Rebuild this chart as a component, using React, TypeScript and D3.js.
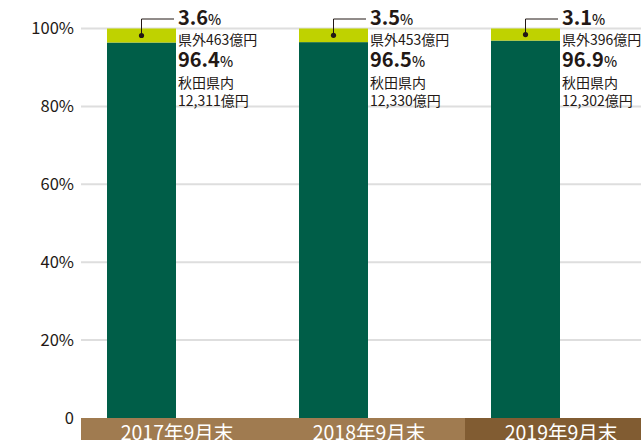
import React from "react";
import * as d3 from "d3";

const categories = ["2017年9月末", "2018年9月末", "2019年9月末"];
const insidePct = [96.4, 96.5, 96.9];
const outsidePct = [3.6, 3.5, 3.1];
const insideAmount = ["12,311", "12,330", "12,302"];
const outsideAmount = ["463", "453", "396"];
const yTicks = [0, 20, 40, 60, 80, 100];

const W = 641;
const H = 440;
const FONT = "'Noto Sans CJK JP', 'Noto Sans', sans-serif";
const TXT = "#231815";
const GREEN = "#005e48";
const LIME = "#bfd200";

export default function App() {
  const x = d3.scaleBand<string>().domain(categories).range([81, 657]).padding(0);
  const y = d3.scaleLinear().domain([0, 100]).range([418, 28.5]);
  const barOffset = 26;
  const barW = 69;

  return (
    <svg width={W} height={H} style={{ position: "absolute", left: 0, top: 0, display: "block" }}>
      <rect x={0} y={0} width={W} height={H} fill="#fff" />
      {yTicks.filter((t) => t > 0).map((t) => (
        <line key={"g" + t} x1={81} x2={W} y1={y(t)} y2={y(t)} stroke="#dedede" strokeWidth={2} />
      ))}
      {yTicks.map((t) => (
        <text key={"t" + t} x={74} y={y(t)} dy="0.36em" textAnchor="end" fontFamily={FONT} fontSize={16.5} fill={TXT}>
          {t === 0 ? "0" : `${t}%`}
        </text>
      ))}
      {categories.map((c, i) => {
        const bx = (x(c) as number) + barOffset;
        const cx = bx + barW / 2;
        const yIn = y(insidePct[i]);
        const yTop = y(100);
        const dotY = (yIn + yTop) / 2;
        const tx = bx + barW + 2;
        return (
          <g key={c}>
            <rect x={bx} y={yIn} width={barW} height={y(0) - yIn} fill={GREEN} />
            <rect x={bx} y={yTop} width={barW} height={yIn - yTop} fill={LIME} />
            <polyline points={`${cx},${dotY} ${cx},19 ${tx - 4},19`} fill="none" stroke={TXT} strokeWidth={1} />
            <circle cx={cx} cy={dotY} r={2.6} fill={TXT} />
            <text x={tx} y={25} fontFamily={FONT} fill={TXT}>
              <tspan fontSize={20} fontWeight={700}>{outsidePct[i].toFixed(1)}</tspan>
              <tspan fontSize={14} fontWeight={500}>%</tspan>
            </text>
            <text x={tx} y={45} fontFamily={FONT} fontSize={14} fill={TXT}>
              {`県外${outsideAmount[i]}億円`}
            </text>
            <text x={tx} y={67} fontFamily={FONT} fill={TXT}>
              <tspan fontSize={20} fontWeight={700}>{insidePct[i].toFixed(1)}</tspan>
              <tspan fontSize={14} fontWeight={500}>%</tspan>
            </text>
            <text x={tx} y={88} fontFamily={FONT} fontSize={14} fill={TXT}>
              秋田県内
            </text>
            <text x={tx} y={106} fontFamily={FONT} fontSize={14} fill={TXT}>
              {`${insideAmount[i]}億円`}
            </text>
          </g>
        );
      })}
      {categories.map((c, i) => (
        <g key={"b" + c}>
          <rect x={x(c) as number} y={418} width={i === 2 ? W - (x(c) as number) : x.bandwidth()} height={22} fill={i === 2 ? "#815c32" : "#a07b50"} />
          <text x={(x(c) as number) + x.bandwidth() / 2} y={440} textAnchor="middle" fontFamily={FONT} fontSize={19.5} fill="#fff">
            {c}
          </text>
        </g>
      ))}
    </svg>
  );
}
